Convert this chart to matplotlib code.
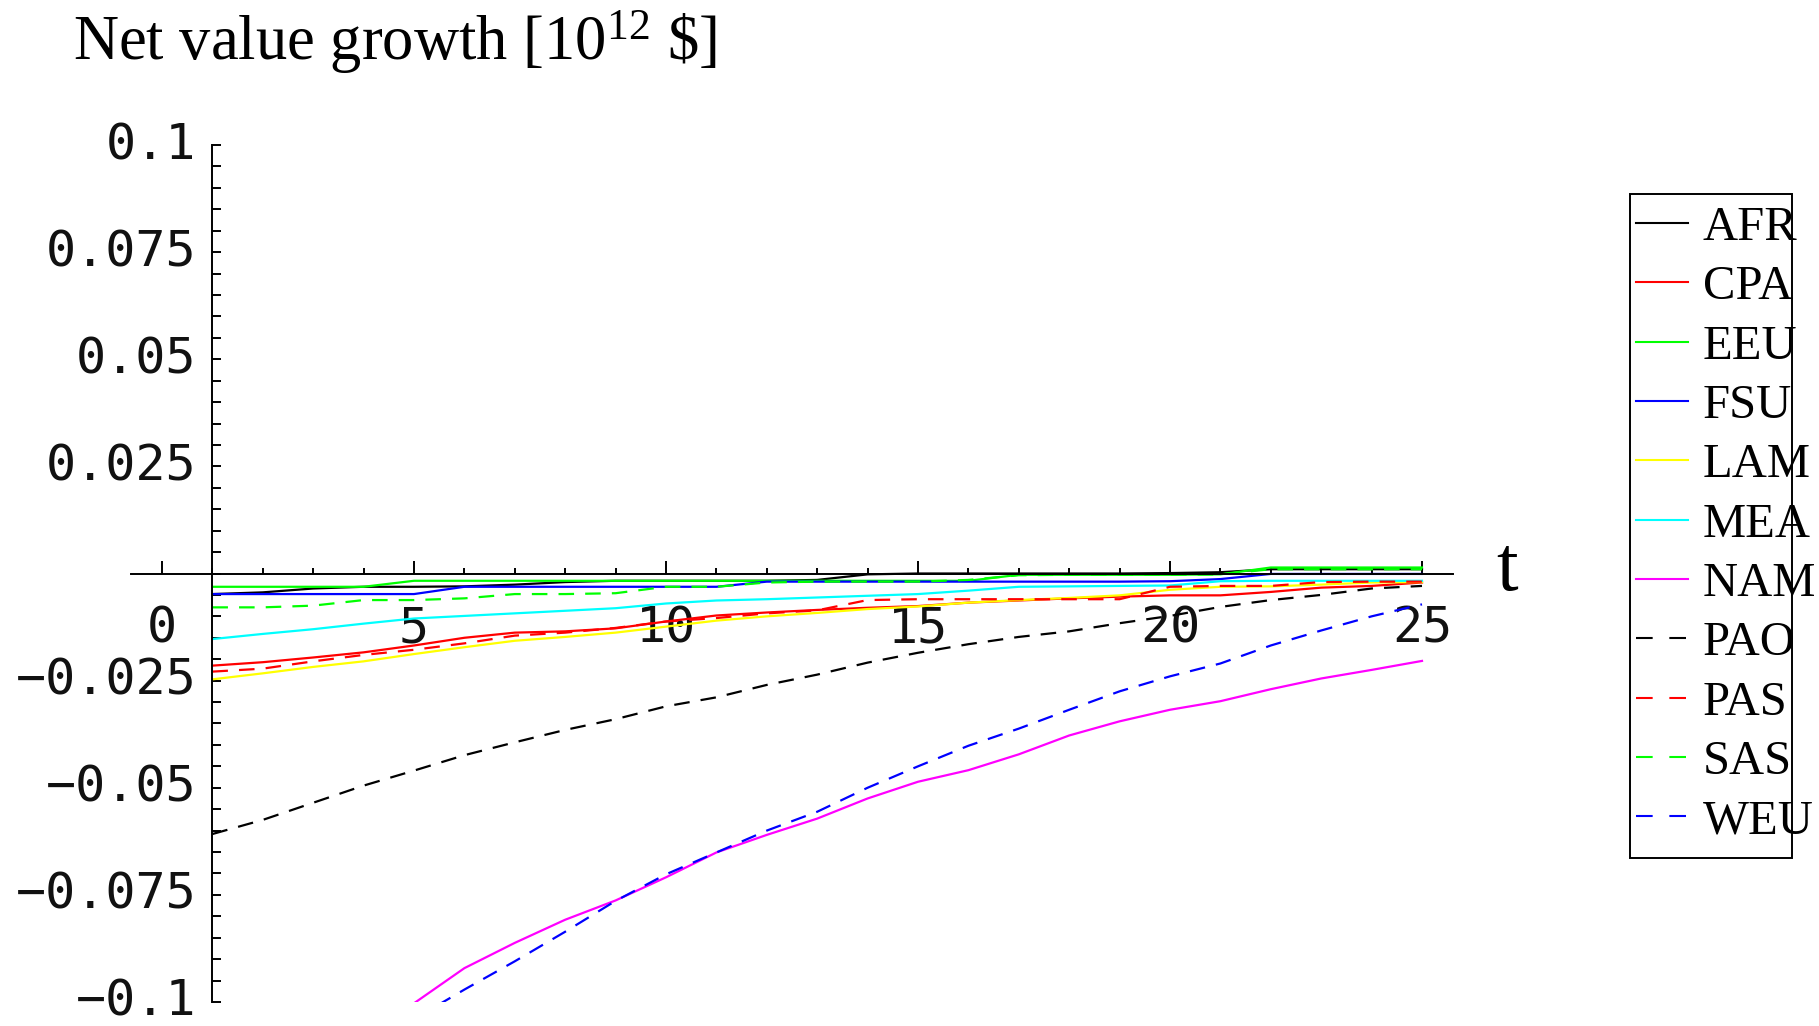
import matplotlib
matplotlib.use("Agg")
import matplotlib.pyplot as plt
from matplotlib.lines import Line2D
from matplotlib.patches import Rectangle
from matplotlib.ticker import FixedLocator, MultipleLocator

# ---- data -------------------------------------------------------------
t = list(range(1, 26))
t_late = list(range(5, 26))

AFR = [-0.0048, -0.0044, -0.0035, -0.0031, -0.0031, -0.0030, -0.0026, -0.0020,
       -0.0017, -0.0017, -0.0017, -0.0017, -0.0015, -0.0002, 0.0000, 0.0000,
       0.0000, 0.0000, 0.0000, 0.0001, 0.0003, 0.0010, 0.0010, 0.0010, 0.0010]
CPA = [-0.0215, -0.0207, -0.0196, -0.0184, -0.0168, -0.0150, -0.0138, -0.0135,
       -0.0128, -0.0112, -0.0098, -0.0091, -0.0085, -0.0080, -0.0076, -0.0068,
       -0.0063, -0.0058, -0.0054, -0.0051, -0.0051, -0.0043, -0.0033, -0.0029,
       -0.0021]
EEU = [-0.0031, -0.0031, -0.0031, -0.0031, -0.0017, -0.0017, -0.0017, -0.0017,
       -0.0017, -0.0017, -0.0017, -0.0017, -0.0017, -0.0017, -0.0017, -0.0017,
       -0.0003, -0.0003, -0.0003, -0.0003, -0.0002, 0.0014, 0.0014, 0.0014,
       0.0014]
FSU = [-0.0048, -0.0048, -0.0048, -0.0048, -0.0048, -0.0031, -0.0031, -0.0031,
       -0.0031, -0.0031, -0.0031, -0.0019, -0.0019, -0.0019, -0.0019, -0.0019,
       -0.0019, -0.0019, -0.0019, -0.0018, -0.0013, -0.0001, -0.0001, -0.0001,
       -0.0001]
LAM = [-0.0247, -0.0233, -0.0218, -0.0205, -0.0188, -0.0172, -0.0157, -0.0148,
       -0.0138, -0.0124, -0.0110, -0.0100, -0.0092, -0.0083, -0.0077, -0.0068,
       -0.0062, -0.0057, -0.0051, -0.0038, -0.0031, -0.0030, -0.0026, -0.0021,
       -0.0020]
MEA = [-0.0153, -0.0141, -0.0130, -0.0117, -0.0105, -0.0099, -0.0093, -0.0087,
       -0.0081, -0.0070, -0.0063, -0.0060, -0.0056, -0.0052, -0.0048, -0.0040,
       -0.0031, -0.0030, -0.0029, -0.0028, -0.0018, -0.0017, -0.0017, -0.0017,
       -0.0017]
NAM = [-0.1003, -0.0921, -0.0862, -0.0808, -0.0763, -0.0709, -0.0651, -0.0610,
       -0.0572, -0.0525, -0.0486, -0.0459, -0.0422, -0.0378, -0.0345, -0.0318,
       -0.0298, -0.0270, -0.0245, -0.0225, -0.0204]
PAO = [-0.0608, -0.0575, -0.0535, -0.0495, -0.0460, -0.0424, -0.0394, -0.0365,
       -0.0340, -0.0310, -0.0289, -0.0260, -0.0236, -0.0208, -0.0185, -0.0165,
       -0.0148, -0.0135, -0.0116, -0.0099, -0.0078, -0.0062, -0.0050, -0.0035,
       -0.0029]
PAS = [-0.0229, -0.0222, -0.0205, -0.0190, -0.0178, -0.0163, -0.0145, -0.0138,
       -0.0127, -0.0112, -0.0104, -0.0093, -0.0086, -0.0062, -0.0060, -0.0060,
       -0.0060, -0.0060, -0.0060, -0.0031, -0.0029, -0.0029, -0.0020, -0.0019,
       -0.0019]
SAS = [-0.0079, -0.0079, -0.0075, -0.0062, -0.0062, -0.0058, -0.0048, -0.0048,
       -0.0046, -0.0031, -0.0031, -0.0021, -0.0019, -0.0019, -0.0019, -0.0015,
       -0.0004, -0.0003, -0.0003, -0.0003, -0.0002, 0.0010, 0.0010, 0.0010,
       0.0010]
WEU = [-0.1040, -0.0971, -0.0905, -0.0836, -0.0764, -0.0702, -0.0651, -0.0600,
       -0.0556, -0.0500, -0.0450, -0.0402, -0.0362, -0.0318, -0.0275, -0.0240,
       -0.0210, -0.0168, -0.0133, -0.0100, -0.0072]

regions = ["AFR", "CPA", "EEU", "FSU", "LAM", "MEA", "NAM",
           "PAO", "PAS", "SAS", "WEU"]

x_ticks = [0, 5, 10, 15, 20, 25]
x_tick_labels = ["0", "5", "10", "15", "20", "25"]
y_ticks = [-0.1, -0.075, -0.05, -0.025, 0.0, 0.025, 0.05, 0.075, 0.1]
y_tick_labels = ["\u22120.1", "\u22120.075", "\u22120.05", "\u22120.025", "",
                 "0.025", "0.05", "0.075", "0.1"]

title_text = r"Net value growth [10$^{12}$ \$]"
x_axis_name = "t"

# ---- styling ----------------------------------------------------------
plt.rcParams["mathtext.default"] = "regular"
DASH = (0, (7, 5))
series = [
    (t, AFR, "#000000", "-"),
    (t, CPA, "#ff0000", "-"),
    (t, EEU, "#00ff00", "-"),
    (t, FSU, "#0000ff", "-"),
    (t, LAM, "#ffff00", "-"),
    (t, MEA, "#00ffff", "-"),
    (t_late, NAM, "#ff00ff", "-"),
    (t, PAO, "#000000", DASH),
    (t, PAS, "#ff0000", DASH),
    (t, SAS, "#00ff00", DASH),
    (t_late, WEU, "#0000ff", DASH),
]

W, H = 1819, 1026
fig = plt.figure(figsize=(W / 100, H / 100), dpi=100)
ax = fig.add_axes([131 / W, 1 - 1002 / H, (1453 - 131) / W, (1002 - 145) / H])

for xs, ys, col, ls in series:
    ax.plot(xs, ys, color=col, linestyle=ls, linewidth=1.6)

ax.set_xlim(-31 / 50.4, (1453 - 162) / 50.4)
ax.set_ylim(-0.1, 0.1)

# axes crossing at (1, 0)
for side in ("top", "right"):
    ax.spines[side].set_visible(False)
ax.spines["left"].set_position(("data", 1))
ax.spines["bottom"].set_position(("data", 0))
for side in ("left", "bottom"):
    ax.spines[side].set_linewidth(1.4)

ax.xaxis.set_major_locator(FixedLocator(x_ticks))
ax.set_xticklabels(x_tick_labels)
ax.xaxis.set_minor_locator(FixedLocator([v for v in range(1, 26) if v % 5]))
ax.yaxis.set_major_locator(FixedLocator(y_ticks))
ax.set_yticklabels(y_tick_labels)
ax.yaxis.set_minor_locator(MultipleLocator(0.005))

tick_font = dict(family="DejaVu Sans Mono", size=36)
ax.tick_params(axis="x", which="major", direction="in", length=9.4, width=1.4, pad=22)
ax.tick_params(axis="x", which="minor", direction="in", length=4.3, width=1.4)
ax.tick_params(axis="y", which="both", direction="in", length=6.5, width=1.4, pad=11.5)
for lab in ax.get_xticklabels() + ax.get_yticklabels():
    lab.set_fontfamily(tick_font["family"])
    lab.set_fontsize(tick_font["size"])
    lab.set_color("#111111")
for lab in ax.get_yticklabels():
    lab.set_verticalalignment("center")

# title and axis name
fig.text(73 / W, 1 - 60 / H, title_text, family="Liberation Serif", fontsize=45,
         ha="left", va="baseline")
fig.text(1507 / W, 1 - 590 / H, x_axis_name, family="Liberation Serif", fontsize=56,
         ha="center", va="baseline")

# legend
handles = []
for _, _, col, ls in series:
    style = (0, (8, 8)) if ls != "-" else "-"
    handles.append(Line2D([], [], color=col, linestyle=style, linewidth=1.5))
leg = fig.legend(handles, regions, loc="upper left",
                 bbox_to_anchor=(1636 / W, 1 - 206 / H),
                 frameon=False, prop=dict(family="Liberation Serif", size=35),
                 handlelength=1.07, handletextpad=0.3, labelspacing=0.315,
                 borderpad=0, borderaxespad=0)
fig.add_artist(Rectangle((1630 / W, 1 - 858 / H), (1792 - 1630) / W, (858 - 194) / H,
                         transform=fig.transFigure, fill=False, edgecolor="black",
                         linewidth=1.4))

fig.savefig("out.png", dpi=100)
